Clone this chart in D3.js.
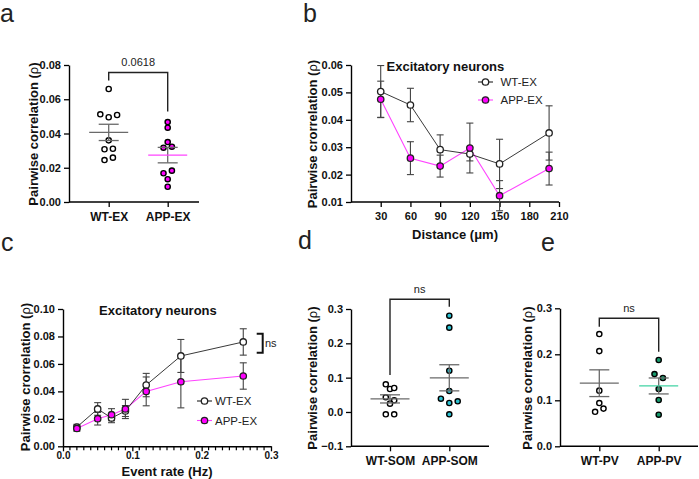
<!DOCTYPE html>
<html><head><meta charset="utf-8">
<script src="https://cdn.jsdelivr.net/npm/d3@7"></script>
<style>
body{margin:0;background:#fff;}
svg{display:block;font-family:"Liberation Sans",Arial,sans-serif;}
</style></head>
<body>
<svg id="chart" width="699" height="479"></svg>
<script>
// ---------- DATA ----------
// Panel a
const aCats = ["WT-EX", "APP-EX"];
const aWT = [0.066, 0.0512, 0.0495, 0.0508, 0.036, 0.0308, 0.0311, 0.0245, 0.0259];
const aAPP = [0.0467, 0.0434, 0.035, 0.0317, 0.0323, 0.0168, 0.0183, 0.0133, 0.0089];
const aTicks = [0, 0.02, 0.04, 0.06, 0.08];
const aP = "0.0618";
// Panel b
const bDist = [30, 60, 90, 120, 150, 200];
const bWT = [0.0503, 0.0454, 0.0291, 0.0275, 0.0239, 0.0352];
const bWTerr = [0.0095, 0.0061, 0.0054, 0.0025, 0.009, 0.0099];
const bAPP = [0.0475, 0.026, 0.0231, 0.0297, 0.0123, 0.0222];
const bAPPerr = [0.0066, 0.006, 0.004, 0.0091, 0.0055, 0.006];
const bXTicks = [30, 60, 90, 120, 150, 180, 210];
const bYTicks = [0.01, 0.02, 0.03, 0.04, 0.05, 0.06];
// Panel c
const cRate = [0.02, 0.05, 0.07, 0.09, 0.12, 0.17, 0.26];
const cWT = [0.014, 0.0272, 0.0206, 0.0257, 0.0446, 0.0658, 0.076];
const cWTerr = [0.002, 0.0046, 0.0034, 0.004, 0.0085, 0.012, 0.0096];
const cAPP = [0.013, 0.0201, 0.023, 0.0272, 0.040, 0.047, 0.0512];
const cAPPerr = [0.002, 0.0046, 0.0044, 0.007, 0.0105, 0.019, 0.0096];
const cXTicks = [0, 0.1, 0.2, 0.3];
const cYTicks = [0, 0.02, 0.04, 0.06, 0.08, 0.10];
// Panel d
const dCats = ["WT-SOM", "APP-SOM"];
const dWT = [0.0806, 0.067, 0.0698, 0.0427, 0.034, 0.0242, -0.0068, -0.0068];
const dAPP = [0.2805, 0.2456, 0.1203, 0.0611, 0.0387, 0.0261, 0.0311, -0.0068];
const dTicks = [-0.1, 0, 0.1, 0.2, 0.3];
// Panel e
const eCats = ["WT-PV", "APP-PV"];
const eWT = [0.244, 0.207, 0.121, 0.094, 0.075, 0.082];
const eAPP = [0.1876, 0.157, 0.1485, 0.1246, 0.1007, 0.0687];
const eTicks = [0, 0.1, 0.2, 0.3];

// ---------- STYLE ----------
const FONT = '"Liberation Sans",Arial,sans-serif';
const MAG = "#ff00ff", MAGLINE = "#ff44ff";
const CYAN = "#2cc3d3", GREEN = "#179a6c", GREENLINE = "#40d3a3";
const GREY = "#6a6a6a";

const svg = d3.select("#chart");

function styleAxis(g){
  g.selectAll(".domain").attr("stroke","#000").attr("stroke-width",1.4);
  g.selectAll(".tick line").attr("stroke","#000").attr("stroke-width",1.3);
  g.selectAll(".tick text").attr("font-family",FONT).attr("font-size",11).attr("font-weight","bold").attr("fill","#111");
}
function yAxis(scale, x, ticks, fmt){
  const g = svg.append("g").attr("transform",`translate(${x},0)`)
    .call(d3.axisLeft(scale).tickValues(ticks).tickFormat(fmt).tickSize(5).tickSizeOuter(0).tickPadding(3));
  styleAxis(g); return g;
}
function yTitle(text, cx, cy){
  const t = svg.append("text").attr("transform",`translate(${cx},${cy}) rotate(-90)`)
    .attr("text-anchor","middle").attr("dominant-baseline","central")
    .attr("font-family",FONT).attr("font-size",13).attr("font-weight","bold").attr("fill","#111");
  t.append("tspan").text(text + " (");
  t.append("tspan").attr("font-weight","normal").text("ρ");
  t.append("tspan").text(")");
}
function letter(ch, x, y){
  svg.append("text").attr("x",x).attr("y",y).text(ch)
    .attr("font-family",FONT).attr("font-size",25).attr("fill","#222");
}
function catAxis(scale, x0, x1, y){
  const g = svg.append("g").attr("transform",`translate(0,${y})`)
    .call(d3.axisBottom(scale).tickSize(5).tickSizeOuter(0).tickPadding(5));
  g.select(".domain").remove();
  styleAxis(g);
  g.selectAll(".tick text").attr("font-size",12);
  svg.append("line").attr("x1",x0).attr("x2",x1).attr("y1",y).attr("y2",y)
    .attr("stroke","#000").attr("stroke-width",1.4);
}
// simple row-based dodge (GraphPad-like scatter)
function swarm(values, yScale, cx, spacing=8.4, thr=4.5){
  const pts = values.map((v,i)=>({v, y:yScale(v), i}));
  const sorted = pts.slice().sort((a,b)=>a.y-b.y || a.i-b.i);
  let k = 0;
  while(k < sorted.length){
    const row = [sorted[k]];
    let j = k+1;
    while(j < sorted.length && sorted[j].y - sorted[k].y < thr){ row.push(sorted[j]); j++; }
    row.sort((a,b)=>a.i-b.i);
    row.forEach((p,n)=>{ p.x = cx + (n - (row.length-1)/2)*spacing; });
    k = j;
  }
  return pts;
}
function scatterGroup(values, yScale, cx, fill, meanColor){
  const m = d3.mean(values), sem = d3.deviation(values)/Math.sqrt(values.length);
  const pts = swarm(values, yScale, cx);
  svg.append("g").selectAll("circle").data(pts).join("circle")
    .attr("cx",d=>d.x).attr("cy",d=>d.y).attr("r",2.6)
    .attr("fill",fill).attr("stroke","#000").attr("stroke-width",1.4);
  const g = svg.append("g").attr("stroke-width",1.3).attr("fill","none");
  g.append("line").attr("x1",cx).attr("x2",cx).attr("y1",yScale(m+sem)).attr("y2",yScale(m-sem)).attr("stroke",GREY);
  [m+sem, m-sem].forEach(v=>g.append("line").attr("x1",cx-10).attr("x2",cx+10).attr("y1",yScale(v)).attr("y2",yScale(v)).attr("stroke",GREY));
  g.append("line").attr("x1",cx-19.5).attr("x2",cx+19.5).attr("y1",yScale(m)).attr("y2",yScale(m)).attr("stroke",meanColor);
}
function bracket(xl, xr, yTop, yl, yr, label, ty, size){
  svg.append("path").attr("d",`M${xl},${yl}V${yTop}H${xr}V${yr}`)
    .attr("fill","none").attr("stroke","#222").attr("stroke-width",1.4);
  svg.append("text").attr("x",(xl+xr)/2).attr("y",ty).attr("text-anchor","middle")
    .attr("dominant-baseline","central").attr("font-family",FONT).attr("font-size",size).attr("fill","#222").text(label);
}

// ---------- PANEL A ----------
{
  const y = d3.scaleLinear().domain([0,0.08]).range([202,65]);
  const x = d3.scalePoint().domain(aCats).range([108.7,167.7]);
  yAxis(y, 69, aTicks, d3.format(".2f"));
  catAxis(x, 69, 199, 202);
  yTitle("Pairwise correlation", 33, 134);
  scatterGroup(aWT, y, x(aCats[0]), "#fff", GREY);
  scatterGroup(aAPP, y, x(aCats[1]), MAG, MAGLINE);
  bracket(x(aCats[0]), x(aCats[1]), 72.5, 80.5, 111.5, aP, 62, 11);
  letter("a", 0, 22);
}

// ---------- LINE PANELS ----------
function linePanel(xv, s1, e1, s2, e2, x, y){
  const line = d3.line().x((d,i)=>x(xv[i])).y(d=>y(d));
  svg.append("path").datum(s2).attr("d",line).attr("fill","none").attr("stroke",MAGLINE).attr("stroke-width",1.1);
  svg.append("path").datum(s1).attr("d",line).attr("fill","none").attr("stroke","#222").attr("stroke-width",0.9);
  [[s1,e1],[s2,e2]].forEach(([s,e])=>{
    const g = svg.append("g").attr("stroke","#444").attr("stroke-width",1.1);
    s.forEach((v,i)=>{
      const cx = x(xv[i]);
      g.append("line").attr("x1",cx).attr("x2",cx).attr("y1",y(v+e[i])).attr("y2",y(v-e[i]));
      [v+e[i], v-e[i]].forEach(w=>g.append("line").attr("x1",cx-3.5).attr("x2",cx+3.5).attr("y1",y(w)).attr("y2",y(w)));
    });
  });
  svg.append("g").selectAll("circle").data(s1).join("circle")
    .attr("cx",(d,i)=>x(xv[i])).attr("cy",d=>y(d)).attr("r",3.2)
    .attr("fill","#fff").attr("stroke","#222").attr("stroke-width",1.3);
  svg.append("g").selectAll("circle").data(s2).join("circle")
    .attr("cx",(d,i)=>x(xv[i])).attr("cy",d=>y(d)).attr("r",3.2)
    .attr("fill",MAG).attr("stroke","#222").attr("stroke-width",1.3);
}
function legend(x, y1, y2, tx){
  [[y1,"#fff","#222","WT-EX"],[y2,MAG,MAGLINE,"APP-EX"]].forEach(([yy,fill,lc,label])=>{
    svg.append("line").attr("x1",x-7.5).attr("x2",x+7.5).attr("y1",yy).attr("y2",yy).attr("stroke",lc).attr("stroke-width",1.1);
    svg.append("circle").attr("cx",x).attr("cy",yy).attr("r",3.2).attr("fill",fill).attr("stroke","#222").attr("stroke-width",1.3);
    svg.append("text").attr("x",tx).attr("y",yy).attr("dominant-baseline","central")
      .attr("font-family",FONT).attr("font-size",11.5).attr("fill","#222").text(label);
  });
}
function title(x, y){
  svg.append("text").attr("x",x).attr("y",y).text("Excitatory neurons")
    .attr("font-family",FONT).attr("font-size",13).attr("font-weight","bold").attr("fill","#111");
}

// ---------- PANEL B ----------
{
  const x = d3.scaleLinear().domain([0,210]).range([351,559]);
  const y = d3.scaleLinear().domain([0.01,0.06]).range([202,65]);
  yAxis(y, 351, bYTicks, d3.format(".2f"));
  const gx = svg.append("g").attr("transform","translate(0,202)")
    .call(d3.axisBottom(x).tickValues(bXTicks).tickSize(5).tickSizeOuter(0).tickPadding(5));
  styleAxis(gx);
  gx.select(".domain").attr("d",`M${x(0)},0H${x(210)}`);
  svg.append("text").attr("x",455).attr("y",234).attr("text-anchor","middle").attr("dominant-baseline","central")
    .attr("font-family",FONT).attr("font-size",13).attr("font-weight","bold").attr("fill","#111").text("Distance (μm)");
  yTitle("Pairwise crorrelation", 311.7, 134);
  linePanel(bDist, bWT, bWTerr, bAPP, bAPPerr, x, y);
  title(386.5, 71);
  legend(485.5, 82, 100, 500.5);
  letter("b", 303, 22);
}

// ---------- PANEL C ----------
{
  const x = d3.scaleLinear().domain([0,0.3]).range([63,271]);
  const y = d3.scaleLinear().domain([0,0.10]).range([446.3,309]);
  yAxis(y, 63, cYTicks, d3.format(".2f"));
  const gx = svg.append("g").attr("transform","translate(0,446.3)")
    .call(d3.axisBottom(x).tickValues(cXTicks).tickFormat(d3.format(".1f")).tickSize(5).tickSizeOuter(0).tickPadding(1));
  styleAxis(gx);
  gx.selectAll(".tick text").attr("font-size",10);
  const minor = d3.range(1,30).filter(i=>i%10!==0).map(i=>i/100);
  svg.append("g").selectAll("line").data(minor).join("line")
    .attr("x1",d=>x(d)).attr("x2",d=>x(d)).attr("y1",446.3).attr("y2",450.3)
    .attr("stroke","#000").attr("stroke-width",1.2);
  svg.append("text").attr("x",167).attr("y",471).attr("text-anchor","middle").attr("dominant-baseline","central")
    .attr("font-family",FONT).attr("font-size",13).attr("font-weight","bold").attr("fill","#111").text("Event rate (Hz)");
  yTitle("Pairwise crorrelation", 25, 377);
  linePanel(cRate, cWT, cWTerr, cAPP, cAPPerr, x, y);
  title(99, 315);
  legend(204.5, 401, 420.5, 215);
  svg.append("path").attr("d","M256.7,333.7H262.7V352.7H256.7").attr("fill","none").attr("stroke","#111").attr("stroke-width",2);
  svg.append("text").attr("x",265).attr("y",343).attr("dominant-baseline","central")
    .attr("font-family",FONT).attr("font-size",11).attr("fill","#222").text("ns");
  letter("c", 1, 251);
}

// ---------- PANEL D ----------
{
  const y = d3.scaleLinear().domain([-0.1,0.3]).range([446.3,309]);
  const x = d3.scalePoint().domain(dCats).range([390,449.3]);
  yAxis(y, 351, dTicks, d3.format(".1f"));
  catAxis(x, 351, 489, 446.3);
  yTitle("Pairwise correlation", 311.7, 378);
  scatterGroup(dWT, y, x(dCats[0]), "#fff", GREY);
  scatterGroup(dAPP, y, x(dCats[1]), CYAN, GREY);
  bracket(x(dCats[0]), x(dCats[1]), 299.3, 375, 306.7, "ns", 289, 11);
  letter("d", 298, 249);
}

// ---------- PANEL E ----------
{
  const y = d3.scaleLinear().domain([0,0.3]).range([446.3,308.3]);
  const x = d3.scalePoint().domain(eCats).range([599.3,658.7]);
  yAxis(y, 560, eTicks, d3.format(".1f"));
  catAxis(x, 560, 698, 446.3);
  yTitle("Pairwise correlation", 526.7, 378);
  scatterGroup(eWT, y, x(eCats[0]), "#fff", GREY);
  scatterGroup(eAPP, y, x(eCats[1]), GREEN, GREENLINE);
  bracket(x(eCats[0]), x(eCats[1]), 318.3, 326.7, 351.7, "ns", 308, 11);
  letter("e", 541, 251);
}
</script>
</body></html>
